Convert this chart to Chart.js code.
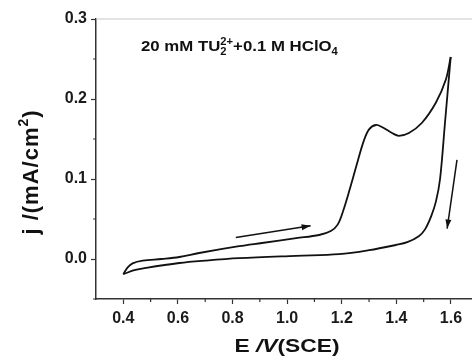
<!DOCTYPE html>
<html>
<head>
<meta charset="utf-8">
<script src="https://cdn.jsdelivr.net/npm/chart.js@4"></script>
<style>
  html, body { margin: 0; background: #fff; }
  #wrap { width: 472px; height: 363px; }
</style>
</head>
<body>
<div id="wrap"><canvas id="myChart"></canvas></div>
<script>
// cyclic voltammogram
const forwardE = [0.400, 0.416, 0.434, 0.471, 0.540, 0.605, 0.678, 0.824, 0.908, 1.033, 1.117, 1.160, 1.185, 1.205, 1.230, 1.255, 1.280, 1.300, 1.325, 1.347, 1.384, 1.409, 1.446, 1.493, 1.544, 1.581, 1.599];
const forwardJ = [-0.019, -0.0104, -0.0054, -0.0021, 0.000, 0.0025, 0.0075, 0.016, 0.020, 0.026, 0.030, 0.035, 0.043, 0.060, 0.088, 0.118, 0.147, 0.162, 0.1675, 0.165, 0.1575, 0.154, 0.1575, 0.170, 0.195, 0.224, 0.2525];
const reverseE = [1.599, 1.578, 1.560, 1.545, 1.528, 1.505, 1.482, 1.440, 1.398, 1.300, 1.190, 1.033, 0.824, 0.700, 0.605, 0.484, 0.440, 0.400];
const reverseJ = [0.2525, 0.170, 0.100, 0.072, 0.054, 0.037, 0.0285, 0.021, 0.0175, 0.011, 0.006, 0.004, 0.001, -0.002, -0.005, -0.011, -0.014, -0.019];

// scan direction arrows
const arrowE1 = [0.812, 1.086];
const arrowJ1 = [0.027, 0.0415];
const arrowE2 = [1.622, 1.586];
const arrowJ2 = [0.124, 0.038];

const xTicks = [0.4, 0.6, 0.8, 1.0, 1.2, 1.4, 1.6];
const xMinor = [0.5, 0.7, 0.9, 1.1, 1.3, 1.5];
const yTicks = [0.0, 0.1, 0.2, 0.3];
const yMinor = [-0.05, 0.05, 0.15, 0.25];

const pts = (xs, ys) => xs.map((x, i) => ({x: x, y: ys[i]}));

const FONT = "'Liberation Sans', Arial, sans-serif";

// draws text pieces one after another; over:true puts a piece on top of the previous one
function richWidth(ctx, parts) {
  let w = 0, prev = 0;
  parts.forEach(p => {
    ctx.font = p.f;
    const pw = ctx.measureText(p.t).width;
    if (p.over) { w += Math.max(0, pw - prev); prev = Math.max(pw, prev); }
    else { w += pw; prev = pw; }
  });
  return w;
}
function drawRich(ctx, parts, x, y) {
  let cx = x, lastX = x, prev = 0;
  parts.forEach(p => {
    ctx.font = p.f;
    const pw = ctx.measureText(p.t).width;
    if (p.over) {
      ctx.fillText(p.t, lastX, y + (p.dy || 0));
      cx = lastX + Math.max(pw, prev);
      prev = Math.max(pw, prev);
    } else {
      ctx.fillText(p.t, cx, y + (p.dy || 0));
      lastX = cx; prev = pw;
      cx += pw;
    }
  });
}

const extras = {
  id: 'extras',
  afterDraw(chart) {
    const ctx = chart.ctx;
    const a = chart.chartArea;
    const xs = chart.scales.x, ys = chart.scales.y;
    ctx.save();

    // top frame line
    ctx.strokeStyle = '#c8c8c8';
    ctx.lineWidth = 1.2;
    ctx.beginPath();
    ctx.moveTo(a.left, a.top);
    ctx.lineTo(a.right, a.top);
    ctx.stroke();

    // minor ticks
    ctx.strokeStyle = '#333';
    ctx.lineWidth = 1.2;
    ctx.beginPath();
    xMinor.forEach(v => {
      const px = xs.getPixelForValue(v);
      ctx.moveTo(px, a.bottom); ctx.lineTo(px, a.bottom + 3);
    });
    yMinor.forEach(v => {
      const py = ys.getPixelForValue(v);
      ctx.moveTo(a.left, py); ctx.lineTo(a.left - 3, py);
    });
    ctx.stroke();

    // arrow heads
    ctx.fillStyle = '#111';
    [[arrowE1, arrowJ1], [arrowE2, arrowJ2]].forEach(([e, j]) => {
      const x0 = xs.getPixelForValue(e[0]), y0 = ys.getPixelForValue(j[0]);
      const x1 = xs.getPixelForValue(e[1]), y1 = ys.getPixelForValue(j[1]);
      const ang = Math.atan2(y1 - y0, x1 - x0);
      ctx.save();
      ctx.translate(x1, y1);
      ctx.rotate(ang);
      ctx.beginPath();
      ctx.moveTo(0, 0);
      ctx.lineTo(-9, -3);
      ctx.lineTo(-9, 3);
      ctx.closePath();
      ctx.fill();
      ctx.restore();
    });

    ctx.fillStyle = '#111';
    ctx.textBaseline = 'alphabetic';
    ctx.textAlign = 'left';

    // label inside the plot
    const big = 'bold 15px ' + FONT, small = 'bold 10px ' + FONT;
    ctx.save();
    ctx.translate(a.left + 45, a.top + 32);
    ctx.scale(1.12, 1);
    drawRich(ctx, [
      {t: '20 mM TU', f: big},
      {t: '2', f: small, dy: 4},
      {t: '2+', f: small, dy: -6, over: true},
      {t: '+0.1 M HClO', f: big},
      {t: '4', f: small, dy: 4}
    ], 0, 0);
    ctx.restore();

    // x title
    const xt = [
      {t: 'E ', f: 'bold 19px ' + FONT},
      {t: '/V', f: 'italic bold 19px ' + FONT},
      {t: '(SCE)', f: 'bold 19px ' + FONT}
    ];
    ctx.save();
    ctx.translate((a.left + a.right) / 2 + 3, 352);
    ctx.scale(1.2, 1);
    drawRich(ctx, xt, -richWidth(ctx, xt) / 2, 0);
    ctx.restore();

    // y title
    const yt = [
      {t: 'j /(mA/cm', f: 'bold 22px ' + FONT},
      {t: '2', f: 'bold 14px ' + FONT, dy: -10},
      {t: ')', f: 'bold 22px ' + FONT}
    ];
    ctx.save();
    ctx.translate(38, 172);
    ctx.rotate(-Math.PI / 2);
    ctx.letterSpacing = '1px';
    drawRich(ctx, yt, -richWidth(ctx, yt) / 2, 0);
    ctx.restore();

    ctx.restore();
  }
};

const lineStyle = {
  showLine: true,
  pointRadius: 0,
  borderColor: '#111',
  borderWidth: 1.8,
  fill: false
};

const myChart = new Chart(document.querySelector('#myChart').getContext('2d'), {
  type: 'scatter',
  data: {
    datasets: [
      Object.assign({label: 'forward', data: pts(forwardE, forwardJ), tension: 0.35}, lineStyle),
      Object.assign({label: 'reverse', data: pts(reverseE, reverseJ), tension: 0.35}, lineStyle),
      Object.assign({label: 'arrow1', data: pts(arrowE1, arrowJ1), tension: 0}, lineStyle, {borderWidth: 1.5}),
      Object.assign({label: 'arrow2', data: pts(arrowE2, arrowJ2), tension: 0}, lineStyle, {borderWidth: 1.5})
    ]
  },
  options: {
    responsive: true,
    maintainAspectRatio: false,
    animation: false,
    layout: { padding: { top: 19, right: 0, bottom: 0, left: 0 } },
    plugins: { legend: { display: false }, tooltip: { enabled: false } },
    scales: {
      x: {
        type: 'linear',
        min: 0.3,
        max: 1.677,
        afterBuildTicks: s => { s.ticks = xTicks.map(v => ({value: v})); },
        afterFit: s => { s.height = 64; },
        border: { display: true, color: '#333', width: 1.5 },
        grid: { drawOnChartArea: false, drawTicks: true, tickLength: 5, color: '#333', tickWidth: 1.2 },
        ticks: {
          color: '#1a1a1a',
          padding: 5,
          maxRotation: 0,
          font: { family: FONT, size: 16, weight: 'bold' },
          callback: v => v.toFixed(1)
        }
      },
      y: {
        type: 'linear',
        min: -0.05,
        max: 0.3,
        afterBuildTicks: s => { s.ticks = yTicks.map(v => ({value: v})); },
        afterFit: s => { s.width = 96; },
        border: { display: true, color: '#333', width: 1.5 },
        grid: { drawOnChartArea: false, drawTicks: true, tickLength: 5, color: '#333', tickWidth: 1.2 },
        ticks: {
          color: '#1a1a1a',
          padding: 4,
          font: { family: FONT, size: 16, weight: 'bold' },
          callback: v => v.toFixed(1)
        }
      }
    }
  },
  plugins: [extras]
});
</script>
</body>
</html>
